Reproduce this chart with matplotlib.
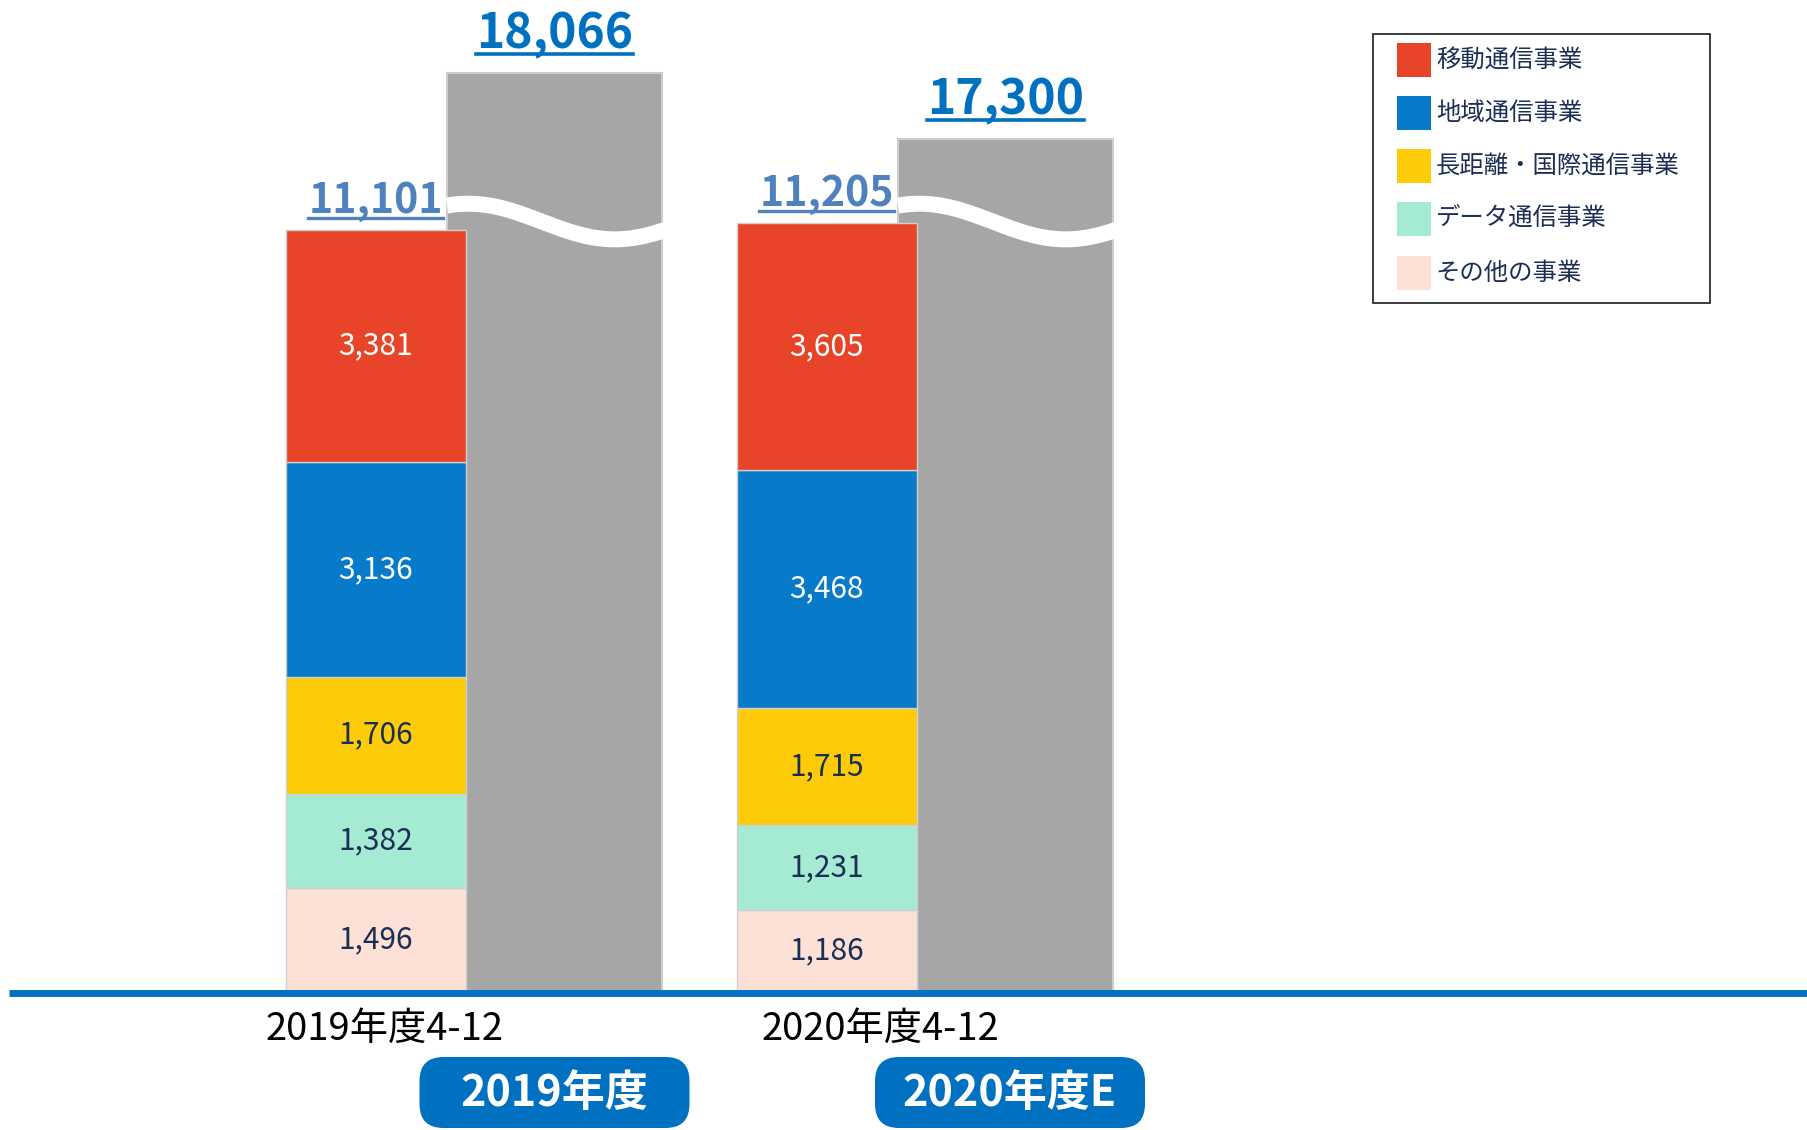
import numpy as np
import matplotlib.pyplot as plt
from matplotlib.patches import Rectangle, FancyBboxPatch
from matplotlib.lines import Line2D
from matplotlib.transforms import IdentityTransform

plt.rcParams['font.family'] = ['Noto Sans CJK JP', 'DejaVu Sans']

# data
periods = ['2019年度4-12', '2020年度4-12']
fy_names = ['2019年度', '2020年度E']
segments = ['その他の事業', 'データ通信事業', '長距離・国際通信事業', '地域通信事業', '移動通信事業']
seg_colors = ['#FDE0D6', '#A5EAD3', '#FDCB07', '#077BC9', '#E8442A']
seg_text = ['#1B2F55', '#1B2F55', '#1B2F55', 'white', 'white']
values_2019 = [1496, 1382, 1706, 3136, 3381]
values_2020 = [1186, 1231, 1715, 3468, 3605]
totals_q = [11101, 11205]
totals_fy = [18066, 17300]

# broken scale for the full-year (gray) bars
BREAK_POS = 11225
BREAK_VAL = 16342
TOP_SCALE = 1.257


def broken(v):
    return BREAK_POS + (v - BREAK_VAL) * TOP_SCALE


W, H = 1808, 1130
fig = plt.figure(figsize=(W / 100, H / 100), dpi=100)
ax = fig.add_axes([0, (H - 991) / H, 1, 991 / H])
px_x = 451.0          # pixels per category
px_y = 0.06855        # pixels per unit
ax.set_xlim(-375.5 / px_x, (W - 375.5) / px_x)
ax.set_ylim(0, 991 / px_y)
ax.axis('off')

x = np.arange(len(periods))
bar_w = 180 / px_x
gray_off = 179 / px_x
gray_w = 215 / px_x

# gray full-year bars (behind)
ax.bar(x + gray_off, [broken(v) for v in totals_fy], width=gray_w,
       color='#A6A6A6', edgecolor='#CDCDCD', linewidth=1.5, zorder=1)

# wave break
for i in x:
    gx0 = i + gray_off - gray_w / 2
    xs = np.linspace(gx0, gx0 + gray_w + 18 / px_x, 200)
    t = (xs - gx0) / gray_w
    ys = BREAK_POS + 260 * np.cos(2 * np.pi * (t - 0.1) / 1.36)
    ax.plot(xs, ys, color='white', lw=11.5, solid_capstyle='butt', zorder=2)

# stacked bars
stack = np.array([values_2019, values_2020]).T
bottom = np.zeros(len(x))
for k, name in enumerate(segments):
    ax.bar(x, stack[k], width=bar_w, bottom=bottom, color=seg_colors[k],
           edgecolor='#D0D0D0', linewidth=1, zorder=3)
    for i in x:
        ax.text(i, bottom[i] + stack[k][i] / 2, f'{stack[k][i]:,}', ha='center',
                va='center', fontsize=21.5, color=seg_text[k], zorder=5)
    bottom += stack[k]

# totals with underline
labels = []
for i in x:
    t = ax.annotate(f'{totals_q[i]:,}', xy=(i, totals_q[i]), xytext=(0, 12.2),
                    textcoords='offset points', ha='center', va='baseline',
                    fontsize=29.5, fontweight='bold', color='#4F81BD')
    labels.append((t, (i, totals_q[i]), 12.2, '#4F81BD', 2.4))
    t = ax.annotate(f'{totals_fy[i]:,}', xy=(i + gray_off, broken(totals_fy[i])),
                    xytext=(0, 17.6), textcoords='offset points', ha='center',
                    va='baseline', fontsize=34.5, fontweight='bold', color='#0070C0')
    labels.append((t, (i + gray_off, broken(totals_fy[i])), 17.6, '#0070C0', 2.6))

# baseline
ax.plot([(9 - 375.5) / px_x, (W - 375.5) / px_x], [-22, -22], color='#0070C0',
        lw=5, solid_capstyle='butt', zorder=6, clip_on=False)

# category labels
shift = [0.02, 0.12]
for i in x:
    ax.text(i + shift[i], (991 - 1029) / px_y, periods[i], ha='center', va='center',
            fontsize=27.5, color='black')

# full-year boxes
box_w = 270 / px_x
box_h = 71 / px_y
for i in x:
    xc = i + gray_off + (0.01 if i == 1 else 0)
    box = FancyBboxPatch((xc - box_w / 2, (991 - 1128) / px_y), box_w, box_h,
                         boxstyle=f'round,pad=0,rounding_size={24 / px_x}',
                         mutation_aspect=px_x / px_y, facecolor='#0070C0',
                         edgecolor='none', clip_on=False, zorder=4)
    ax.add_patch(box)
    ax.text(xc, (991 - 1093) / px_y, fy_names[i], ha='center', va='center',
            fontsize=31, fontweight='bold', color='white', zorder=5)

# legend (drawn by hand)
def fx(v):
    return v / W


def fy(v):
    return 1 - v / H


fig.add_artist(Rectangle((fx(1373), fy(303)), fx(1710) - fx(1373), fy(34) - fy(303),
                         transform=fig.transFigure, fill=False, edgecolor='#1A1A1A', lw=1.2))
rows = [59.5, 112.8, 166, 219, 272.7]
for r, k in zip(rows, range(len(segments) - 1, -1, -1)):
    fig.add_artist(Rectangle((fx(1397), fy(r + 17)), fx(34), 34 / H,
                             transform=fig.transFigure, facecolor=seg_colors[k],
                             edgecolor='none'))
    fig.text(fx(1436), fy(r), segments[k], ha='left', va='center',
             fontsize=17.6, color='#1B2F55')

# underlines
fig.canvas.draw()
renderer = fig.canvas.get_renderer()
for t, xy, off, col, lw in labels:
    bb = t.get_window_extent(renderer)
    base = ax.transData.transform(xy)[1] + off * fig.dpi / 72
    y = base - 5
    fig.add_artist(Line2D([bb.x0, bb.x1], [y, y], color=col, lw=lw,
                          transform=IdentityTransform()))

fig.savefig('out.png', dpi=100)
